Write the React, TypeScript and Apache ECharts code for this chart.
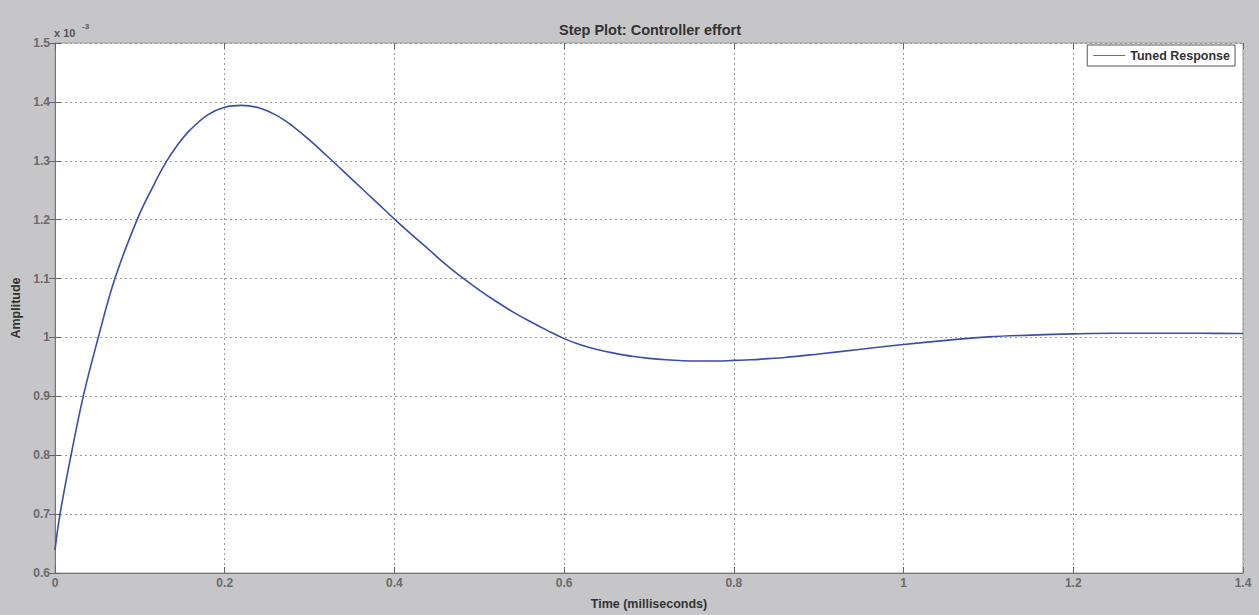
import React, { useEffect, useRef } from "react";
import * as echarts from "echarts";

// Time in milliseconds
const timeMs = [
  0, 0.0059, 0.0196, 0.0333, 0.051, 0.0706, 0.0968, 0.115, 0.131, 0.145, 0.159, 0.18, 0.2, 0.22, 0.24, 0.26,
  0.28, 0.3, 0.32, 0.34, 0.36, 0.38, 0.4, 0.42, 0.44, 0.46, 0.48, 0.5, 0.52, 0.54, 0.56, 0.58, 0.6, 0.62,
  0.64, 0.66, 0.68, 0.7, 0.72, 0.74, 0.76, 0.78, 0.8, 0.82, 0.84, 0.86, 0.9, 0.95, 1.0, 1.05, 1.1, 1.15,
  1.2, 1.25, 1.3, 1.35, 1.4,
];
// Amplitude in units of 1e-3
const amplitude = [
  0.639, 0.7, 0.805, 0.9, 1.0, 1.1, 1.2, 1.255, 1.298, 1.328, 1.352, 1.378, 1.391, 1.394, 1.39, 1.378,
  1.359, 1.335, 1.309, 1.282, 1.255, 1.228, 1.201, 1.175, 1.15, 1.1245, 1.1015, 1.0805, 1.061, 1.043, 1.027,
  1.012, 0.998, 0.987, 0.979, 0.973, 0.968, 0.9645, 0.962, 0.9605, 0.96, 0.96, 0.961, 0.962, 0.964, 0.966,
  0.972, 0.98, 0.988, 0.995, 1.001, 1.004, 1.006, 1.007, 1.007, 1.007, 1.0068,
];
const xTicks = [0, 0.2, 0.4, 0.6, 0.8, 1, 1.2, 1.4];
const yTicks = [0.6, 0.7, 0.8, 0.9, 1, 1.1, 1.2, 1.3, 1.4, 1.5];

const title = "Step Plot: Controller effort";
const seriesName = "Tuned Response";
const xName = "Time (milliseconds)";
const yName = "Amplitude";

export default function App() {
  const ref = useRef<HTMLDivElement>(null);
  useEffect(() => {
    document.body.style.margin = "0";
    const chart = echarts.init(ref.current!, null, { renderer: "svg" });
    const font = "Arial, Liberation Sans";
    const tickLabel = { color: "#6a6a6a", fontFamily: font, fontWeight: "bold" as const, fontSize: 12 };
    const nameStyle = { color: "#333", fontFamily: font, fontWeight: "bold" as const, fontSize: 12.5 };
    chart.setOption({
      animation: false,
      backgroundColor: "#c6c6c8",
      title: {
        text: title,
        left: 645,
        top: 17,
        textAlign: "center",
        textStyle: { color: "#333", fontFamily: font, fontWeight: "bold", fontSize: 14.5 },
      },
      grid: {
        left: 55,
        top: 43,
        right: 16,
        bottom: 42,
        show: true,
        backgroundColor: "#ffffff",
        borderColor: "#9a9a9a",
        borderWidth: 1,
      },
      legend: {
        right: 24,
        top: 45,
        orient: "vertical",
        backgroundColor: "#ffffff",
        borderColor: "#555",
        borderWidth: 1,
        borderRadius: 0,
        padding: [4, 5, 4, 6],
        itemWidth: 32,
        itemHeight: 1,
        itemGap: 4,
        icon: "rect",
        textStyle: { color: "#333", fontFamily: font, fontWeight: "bold", fontSize: 12.5 },
        data: [{ name: seriesName, itemStyle: { color: "#5a6ab8" } }],
      },
      graphic: [
        {
          type: "text",
          left: 54,
          top: 27,
          style: { text: "x 10", fill: "#555", font: "bold 11px Arial, Liberation Sans" },
        },
        {
          type: "text",
          left: 82,
          top: 22,
          style: { text: "-3", fill: "#555", font: "bold 8px Arial, Liberation Sans" },
        },
      ],
      xAxis: [
        {
          type: "value",
          min: 0,
          max: 1.4,
          interval: 0.2,
          name: xName,
          nameLocation: "middle",
          nameGap: 24,
          nameTextStyle: nameStyle,
          axisLine: { show: true, onZero: false, lineStyle: { color: "#777" } },
          axisTick: { show: true, inside: true, length: 6, lineStyle: { color: "#666" } },
          axisLabel: { ...tickLabel, margin: 4, formatter: (v: number) => String(Math.round(v * 10) / 10) },
          splitLine: { show: true, lineStyle: { color: "#9a9a9a", type: [2, 3], width: 1 } },
        },
        {
          type: "value",
          position: "top",
          min: 0,
          max: 1.4,
          interval: 0.2,
          axisLine: { show: false },
          axisTick: { show: true, inside: true, length: 6, lineStyle: { color: "#666" } },
          axisLabel: { show: false },
          splitLine: { show: false },
        },
      ],
      yAxis: [
        {
          type: "value",
          min: 0.6,
          max: 1.5,
          interval: 0.1,
          name: yName,
          nameLocation: "middle",
          nameGap: 32,
          nameTextStyle: nameStyle,
          axisLine: { show: true, onZero: false, lineStyle: { color: "#777" } },
          axisTick: { show: true, inside: true, length: 6, lineStyle: { color: "#666" } },
          axisLabel: { ...tickLabel, margin: 5, formatter: (v: number) => String(Math.round(v * 10) / 10) },
          splitLine: { show: true, lineStyle: { color: "#9a9a9a", type: [2, 3], width: 1 } },
        },
        {
          type: "value",
          position: "right",
          min: 0.6,
          max: 1.5,
          interval: 0.1,
          axisLine: { show: false },
          axisTick: { show: true, inside: true, length: 6, lineStyle: { color: "#666" } },
          axisLabel: { show: false },
          splitLine: { show: false },
        },
      ],
      series: [
        {
          name: seriesName,
          type: "line",
          smooth: 0.4,
          showSymbol: false,
          symbol: "none",
          lineStyle: { color: "#3a4ea6", width: 1.6 },
          itemStyle: { color: "#3a4ea6" },
          data: timeMs.map((t, i) => [t, amplitude[i]]),
        },
      ],
    });
    return () => chart.dispose();
  }, []);
  return <div ref={ref} style={{ width: 1259, height: 615 }} />;
}
